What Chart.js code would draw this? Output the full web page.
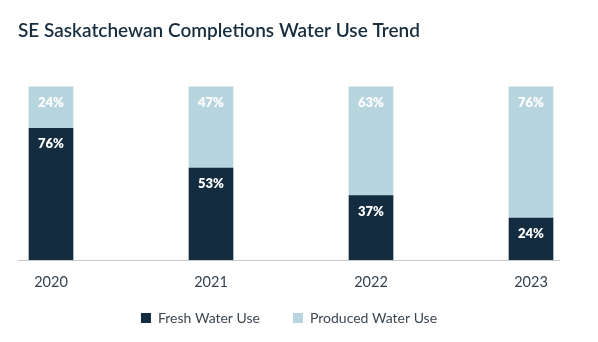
<!DOCTYPE html>
<html>
<head>
<meta charset="utf-8">
<script src="https://cdn.jsdelivr.net/npm/chart.js@4"></script>
<style>
  html, body { margin: 0; padding: 0; background: #fff; }
  #wrap { width: 598px; height: 342px; }
</style>
</head>
<body>
<div id="wrap"><canvas id="chart" width="598" height="342"></canvas></div>
<script>
// Chart data
const years = ['2020', '2021', '2022', '2023'];
const freshWater = [76, 53, 37, 24];
const producedWater = [24, 47, 63, 76];

const FRESH = '#132c3f';
const PRODUCED = '#b7d5df';
const LEGEND_TRIM = 27;

// White % labels near the top of each segment
const segmentLabels = {
    id: 'segmentLabels',
    afterDatasetsDraw(chart) {
        const ctx = chart.ctx;
        ctx.save();
        ctx.fillStyle = '#ffffff';
        ctx.font = '800 13px Lato';
        ctx.textAlign = 'center';
        ctx.textBaseline = 'middle';
        chart.data.datasets.forEach((ds, i) => {
            chart.getDatasetMeta(i).data.forEach((bar, j) => {
                ctx.fillText(ds.data[j] + '%', bar.x, bar.y + 16);
            });
        });
        ctx.restore();
    }
};

// Thin grey baseline spanning the full plot width
const baseline = {
    id: 'baseline',
    beforeDatasetsDraw(chart) {
        const { ctx, scales } = chart;
        const y = Math.round(scales.y.bottom) + 0.5;
        ctx.save();
        ctx.strokeStyle = '#c9c9c9';
        ctx.lineWidth = 1;
        ctx.beginPath();
        ctx.moveTo(scales.y.left, y);
        ctx.lineTo(scales.y2.right, y);
        ctx.stroke();
        ctx.restore();
    }
};

// Legend padding is wide horizontally; take back some of the vertical room it reserves
const legendTrim = {
    id: 'legendTrim',
    beforeInit(chart) {
        const legend = chart.legend;
        if (!legend) return;
        const fit = legend.fit;
        legend.fit = function () {
            fit.call(this);
            this.height -= LEGEND_TRIM;
        };
    },
    afterLayout(chart) {
        // grow the box back upward so the items keep their place and are not clipped
        if (chart.legend) {
            chart.legend.top -= LEGEND_TRIM;
            chart.legend.height += LEGEND_TRIM;
        }
    }
};

new Chart(document.getElementById('chart'), {
    type: 'bar',
    data: {
        labels: years,
        datasets: [
            { label: 'Fresh Water Use', data: freshWater, backgroundColor: FRESH, barThickness: 44, clip: false },
            { label: 'Produced Water Use', data: producedWater, backgroundColor: PRODUCED, barThickness: 44, clip: false }
        ]
    },
    options: {
        responsive: false,
        animation: false,
        layout: { padding: { left: 18, right: 38, top: 19, bottom: 7 } },
        plugins: {
            title: {
                display: true,
                text: 'SE Saskatchewan Completions Water Use Trend',
                align: 'start',
                color: '#182e3f',
                font: { family: 'Lato', size: 19, weight: '600' },
                padding: { top: 0, bottom: 45 }
            },
            legend: {
                position: 'bottom',
                labels: {
                    boxWidth: 10,
                    boxHeight: 10,
                    padding: 33,
                    color: '#3d4750',
                    font: { family: 'Lato', size: 14 }
                }
            },
            tooltip: { enabled: false }
        },
        scales: {
            x: {
                stacked: true,
                offset: false,
                grid: { display: false, drawTicks: false },
                border: { display: false },
                ticks: { padding: 14, color: '#34434f', font: { family: 'Lato', size: 14.5 } }
            },
            y: {
                stacked: true,
                min: 0,
                max: 100,
                position: 'left',
                grid: { display: false },
                border: { display: false },
                ticks: { display: false },
                afterFit(scale) { scale.width = 33; }
            },
            y2: {
                position: 'right',
                min: 0,
                max: 100,
                grid: { display: false },
                border: { display: false },
                ticks: { display: false },
                afterFit(scale) { scale.width = 29; }
            }
        }
    },
    plugins: [segmentLabels, baseline, legendTrim]
});
</script>
</body>
</html>
